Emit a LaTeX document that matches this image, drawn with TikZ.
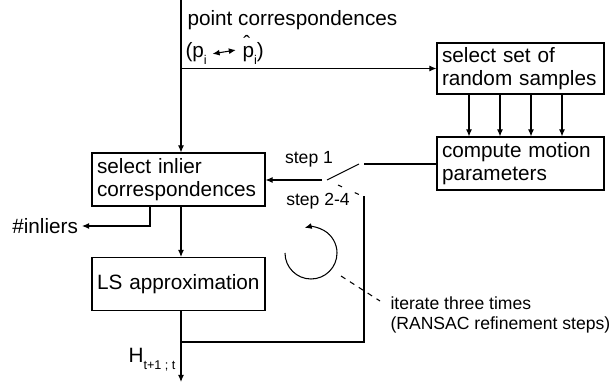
\documentclass[tikz,border=0pt]{standalone}
\usepackage{fontspec}
\setmainfont{Liberation Sans}
\usetikzlibrary{arrows.meta}

\newcommand{\lowidx}[1]{\raisebox{-0.32em}{\fontsize{7.2pt}{8pt}\selectfont #1}}
\newcommand{\hatp}{\rlap{\raisebox{0.36em}{\kern0.04em ˆ}}p}

\begin{document}
\begin{tikzpicture}[
    line width=0.6pt,
    >={Latex[length=4pt,width=3.4pt]},
    big/.style={font=\fontsize{11.8pt}{12.7pt}\selectfont},
    small/.style={font=\fontsize{10pt}{11.4pt}\selectfont},
    box/.style={draw,big,align=left,inner xsep=0.1cm,inner ysep=0pt,
      text width=#1-0.2cm,minimum width=#1,minimum height=1.06cm},
    box/.default=3.46cm]
    \useasboundingbox (0,0) rectangle (12.24,-7.66);
    % boxes
    \node[box] (inl) at (3.57,-3.59) {select inlier\\correspondences};
    \node[box] (ls) at (3.57,-5.68) {LS approximation};
    \node[box=3.34cm,minimum height=1.02cm] (rand) at (10.41,-1.37) {select set of\\random samples};
    \node[box=3.34cm] (cmp) at (10.41,-3.27) {compute motion\\parameters};
    % texts
    \node[big,anchor=base west,inner sep=0pt] (pc) at (3.74,-0.52) {point correspondences};
    \node[big,anchor=base west,inner sep=0pt] (lp) at (3.70,-1.16) {(p\lowidx{i}};
    \node[big,anchor=base west,inner sep=0pt] (rp) at (4.84,-1.16) {\hatp\lowidx{i})};
    \node[big,anchor=east,inner sep=0pt] (nin) at (1.57,-4.52) {\#inliers};
    \node[big,anchor=base west,inner sep=0pt] (h) at (2.56,-7.26) {H\lowidx{t+1 ; t}};
    \node[small] (s1) at (6.18,-3.18) {step 1};
    \node[small] (s24) at (6.36,-4.02) {step 2-4};
    \node[small,align=left,anchor=north west,inner sep=0pt] (iter) at (7.80,-5.93)
      {iterate three times\\(RANSAC refinement steps)};
    % points
    \coordinate (top) at (3.62,0);
    \coordinate (out) at (3.62,-7.64);
    \coordinate (fb) at (3.62,-6.84);
    \coordinate (sw2) at (7.28,-3.92);
    \coordinate (swout) at (6.44,-3.60);
    \coordinate (pivot) at (6.54,-3.60);
    \coordinate (blade) at (7.18,-3.28);
    \coordinate (sw1) at (7.28,-3.28);
    \coordinate (alt1) at (6.76,-3.70);
    \coordinate (alt2) at (7.20,-3.90);
    \coordinate (cc) at (6.22,-5.06);
    \coordinate (it1) at (6.82,-5.52);
    \coordinate (it2) at (7.60,-6.02);
    % connectors
    \draw[->] (top) -- (inl.north -| top);
    \draw[->] (top |- rand.west) -- (rand.west);
    \draw[<->] ([xshift=3pt]lp.east) -- ([xshift=-3.5pt]rp.west);
    \foreach \x in {9.38,10.0,10.62,11.24}
      \draw[->] (rand.south -| \x,0) -- (cmp.north -| \x,0);
    \draw[->] (inl.south -| 3.0,0) |- ([xshift=2pt]nin.east);
    \draw[->] (inl.south -| top) -- (ls.north -| top);
    \draw[->] (ls.south -| out) -- (out);
    \draw (fb) -| (sw2);
    \draw[->] (swout) -- (inl.east |- swout);
    \draw (pivot) -- (blade);
    \draw (sw1) -- (cmp.west |- sw1);
    \draw[dash pattern=on 2.5pt off 8pt] (alt1) -- (alt2);
    \draw[->] (cc) ++(180:0.52) arc[start angle=180,end angle=464,radius=0.52];
    \draw[dashed] (it1) -- (it2);
  \end{tikzpicture}
\end{document}
